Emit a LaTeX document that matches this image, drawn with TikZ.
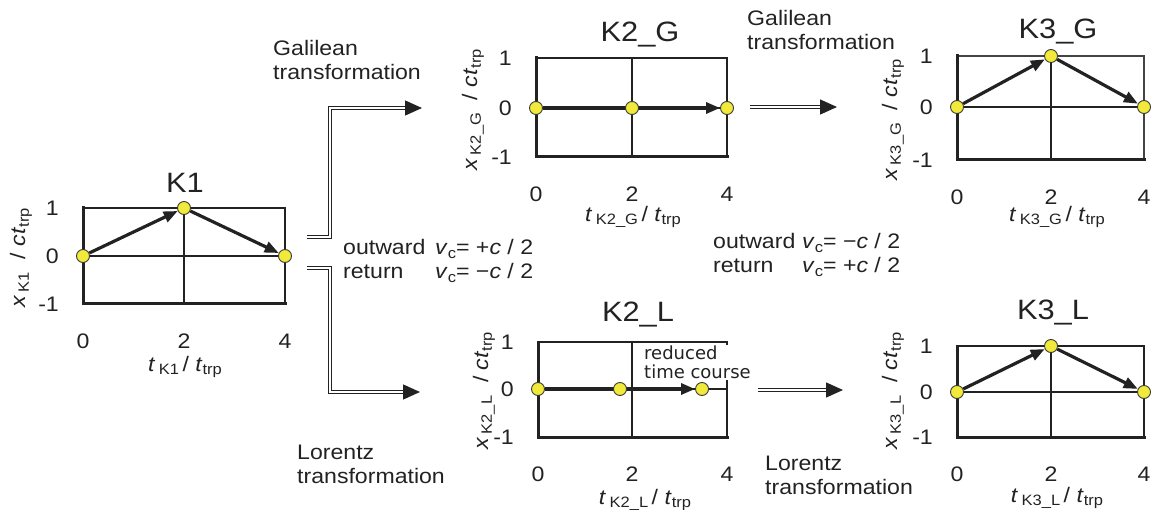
\documentclass[tikz,border=0pt]{standalone}
\usepackage{fontspec}
\setmainfont[FakeStretch=1.1]{Liberation Sans}
\newfontfamily\dvs{DejaVu Sans}
\usetikzlibrary{arrows.meta,backgrounds}
\definecolor{dotyellow}{HTML}{F2EA3A}
\definecolor{ink}{HTML}{222222}
\newcommand\subtx[1]{\raisebox{-0.35ex}{\fontsize{15}{15}\selectfont #1}}
\newcommand\ylabtx[1]{\textit{x}\,\subtx{#1}\ \ / \textit{ct}\subtx{trp}}
\newcommand\xlabtx[1]{\textit{t}\,\subtx{#1}\,/ \textit{t}\subtx{trp}}
% #1 x0, #2 xm, #3 x1, #4 ytop, #5 ymid, #6 ybot, #7 prefix
\newcommand\plotframe[7]{%
  \draw[gridl] (#1,#5) -- (#3,#5);
  \draw[gridl] (#2,#4) -- (#2,#6);
  \draw[frame#7] (#1,#4) -- (#3,#4) -- (#3,#6);
  \draw[frameb] (#1,#4) -- (#1,#6) -- (#3,#6);
}
\newcommand\plotticks[7]{%
  \node[tick,anchor=east] (#7y1) at (#1-24,#4) {1};
  \node[tick,anchor=east] (#7y0) at (#1-24,#5) {0};
  \node[tick,anchor=east] (#7ym) at (#1-24,#6) {-1};
  \node[tick] (#7x0) at (#1,#6+37) {0};
  \node[tick] (#7x2) at (#2,#6+37) {2};
  \node[tick] (#7x4) at (#3,#6+37) {4};
}
\begin{document}
\begin{tikzpicture}[x=1pt,y=-1pt,
  font=\fontsize{21}{24}\selectfont,
  every node/.style={inner sep=0pt, text=ink},
  gridl/.style={draw=ink, line width=1.4pt},
  frameN/.style={draw=ink, line width=1.9pt, line cap=rect},
  frameT/.style={draw=ink!85, line width=1.2pt, line cap=rect},
  frameb/.style={draw=ink, line width=3pt, line cap=rect, line join=miter},
  tick/.style={font=\fontsize{21}{24}\selectfont},
  ttl/.style={font=\fontsize{28}{30}\selectfont},
  traj/.style={draw=ink, line width=3.2pt, -{Triangle[length=14pt,width=11pt]}},
  dot/.style={circle, fill=dotyellow, draw=ink!90, line width=0.9pt, minimum size=13pt, inner sep=0pt},
  dbl/.style={draw=ink, double=white, double distance=2pt, line width=1.3pt, -{Triangle[length=17pt,width=15pt]}},
  lbl/.style={align=left, anchor=west, font=\fontsize{21}{24}\selectfont}]
\useasboundingbox (0,0) rectangle (1153,510);

% ---------- dots ----------
\node[dot] (k1a) at (83,256) {};
\node[dot] (k1b) at (184,208) {};
\node[dot] (k1c) at (285,256) {};
\node[dot] (g2a) at (536,108) {};
\node[dot] (g2b) at (632,108) {};
\node[dot] (g2c) at (727,108) {};
\node[dot] (g3a) at (957,107) {};
\node[dot] (g3b) at (1051,56) {};
\node[dot] (g3c) at (1144,107) {};
\node[dot] (l3a) at (957,392) {};
\node[dot] (l3b) at (1051,346) {};
\node[dot] (l3c) at (1144,392) {};

% K2_L annotation (under dots, above frame)
\node[font=\dvs\fontsize{18}{19}\selectfont, align=left, fill=white, inner sep=1pt, anchor=north west] (rtc) at (643,345) {reduced\\time course};
\node[dot] (l2a) at (538,389) {};
\node[dot] (l2b) at (620,389) {};
\node[dot] (l2c) at (702,389) {};

\begin{scope}[on background layer]
  \plotframe{83}{184}{285}{208}{256}{304}{N}
  \plotframe{536}{632}{727}{58}{108}{157}{N}
  \plotframe{957}{1051}{1144}{56}{107}{160}{T}
  \plotframe{538}{632}{727}{342}{389}{437}{N}
  \plotframe{957}{1051}{1144}{346}{392}{437}{N}
  \draw[traj] (k1a) -- (k1b);
  \draw[traj] (k1b) -- (k1c);
  \draw[traj] (g2a) -- (g2c);
  \draw[traj] (g3a) -- (g3b);
  \draw[traj] (g3b) -- (g3c);
  \draw[traj] (l2a) -- (l2c);
  \draw[traj] (l3a) -- (l3b);
  \draw[traj] (l3b) -- (l3c);
\end{scope}

% ---------- ticks ----------
\plotticks{83}{184}{285}{208}{256}{304}{k1}
\plotticks{536}{632}{727}{58}{108}{157}{g2}
\plotticks{957}{1051}{1144}{56}{107}{160}{g3}
\plotticks{538}{632}{727}{342}{389}{437}{l2}
\plotticks{957}{1051}{1144}{346}{392}{437}{l3}

% ---------- titles ----------
\node[ttl] (t1) at (185,183) {K1};
\node[ttl] (t2) at (640,35) {K2\_G};
\node[ttl] (t3) at (1058,32) {K3\_G};
\node[ttl] (t4) at (638,315) {K2\_L};
\node[ttl] (t5) at (1053,313) {K3\_L};

% ---------- axis labels ----------
\node (xa1) at (185,367) {\xlabtx{K1}};
\node (xa2) at (633,217) {\xlabtx{K2\_G}};
\node (xa3) at (1057,217) {\xlabtx{K3\_G}};
\node (xa4) at (645,500) {\xlabtx{K2\_L}};
\node (xa5) at (1057,498) {\xlabtx{K3\_L}};
\node[rotate=90, anchor=base] (ya1) at (25,258) {\ylabtx{K1}};
\node[rotate=90, anchor=base] (ya2) at (477,110) {\ylabtx{K2\_G}};
\node[rotate=90, anchor=base] (ya3) at (897,120) {\ylabtx{K3\_G}};
\node[rotate=90, anchor=base] (ya4) at (488,391) {\ylabtx{K2\_L}};
\node[rotate=90, anchor=base] (ya5) at (897,391) {\ylabtx{K3\_L}};

% ---------- text labels ----------
\node[lbl] (gal1) at (273,60) {Galilean\\transformation};
\node[lbl] (gal2) at (747,30) {Galilean\\transformation};
\node[lbl] (lor1) at (297,464) {Lorentz\\transformation};
\node[lbl] (lor2) at (765,475) {Lorentz\\transformation};
\node[lbl] (vel1) at (343,261) {\makebox[92pt][l]{outward}\textit{v}\subtx{c}= +\textit{c} / 2\\\makebox[92pt][l]{return}\textit{v}\subtx{c}= −\textit{c} / 2};
\node[lbl] (vel2) at (713,255) {\makebox[89pt][l]{outward}\textit{v}\subtx{c}= −\textit{c} / 2\\\makebox[89pt][l]{return}\textit{v}\subtx{c}= +\textit{c} / 2};

% ---------- transformation arrows ----------
\coordinate (o1) at (307,237);
\coordinate (o2) at (307,268);
\coordinate (b1) at (330,237);
\coordinate (b2) at (330,268);
\coordinate (i1) at (422,108);
\coordinate (i2) at (420,392);
\draw[dbl] (o1) -- (b1) |- (i1);
\draw[dbl] (o2) -- (b2) |- (i2);
\coordinate (gm1) at (750,107);
\coordinate (gm2) at (837,107);
\coordinate (lm1) at (758,390);
\coordinate (lm2) at (843,390);
\draw[dbl] (gm1) -- (gm2);
\draw[dbl] (lm1) -- (lm2);
\end{tikzpicture}
\end{document}
